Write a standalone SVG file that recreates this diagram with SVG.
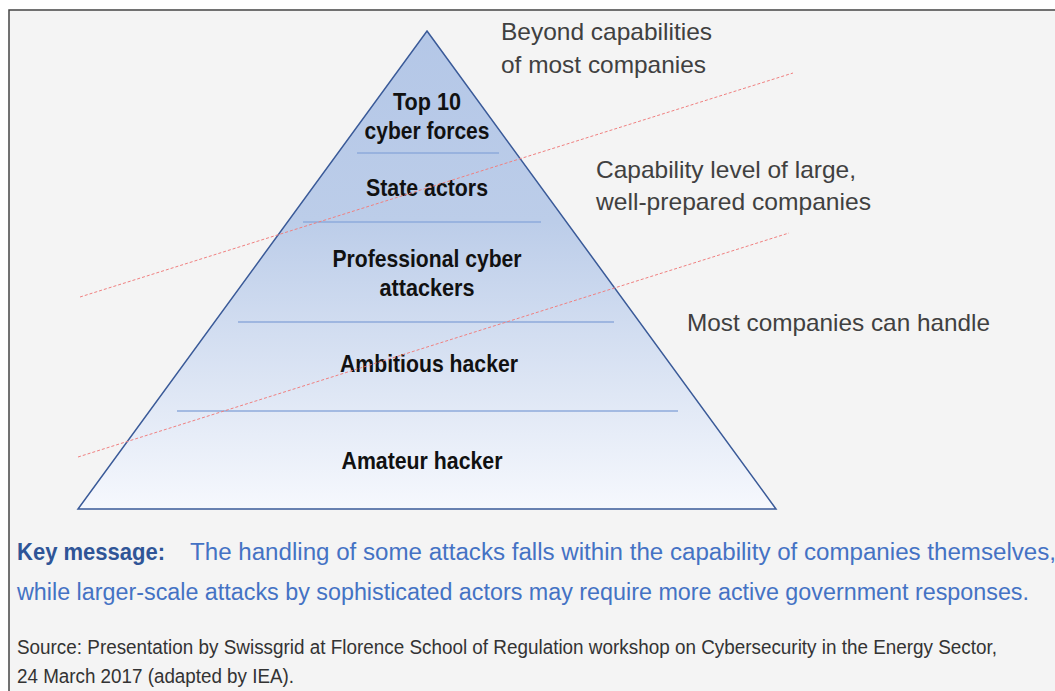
<svg xmlns="http://www.w3.org/2000/svg" width="1055" height="691" viewBox="0 0 1055 691">
<defs>
<linearGradient id="pg" x1="0" y1="0" x2="0" y2="1">
<stop offset="0" stop-color="#b4c7e7"/>
<stop offset="0.4" stop-color="#bccde9"/>
<stop offset="1" stop-color="#f6f8fd"/>
</linearGradient>
<style>
.lbl{font-family:"Liberation Sans",Arial,sans-serif;font-weight:bold;font-size:24px;fill:#111;text-anchor:middle}
.side{font-family:"Liberation Sans",Arial,sans-serif;font-size:24px;fill:#404040}
.div{stroke:#8eaadb;stroke-width:1.3;fill:none}
.red{stroke:#f08080;stroke-width:1;stroke-dasharray:3 2;fill:none}
.key{font-family:"Liberation Sans",Arial,sans-serif;font-size:23px;fill:#4472c4}
.src{font-family:"Liberation Sans",Arial,sans-serif;font-size:20px;fill:#333}
</style>
</defs>
<rect x="0" y="0" width="1055" height="691" fill="#ffffff"/>
<rect x="9" y="10" width="1060" height="700" fill="#f4f4f4" stroke="#444" stroke-width="1.5"/>
<g id="pyramid">
<polygon points="427,31 776,509 78,509" fill="url(#pg)" stroke="#3a5a98" stroke-width="1.5"/>
</g>
<g id="dividers">
<line class="div" x1="357" y1="153" x2="499" y2="153"/>
<line class="div" x1="303" y1="222" x2="541" y2="222"/>
<line class="div" x1="238" y1="322" x2="614" y2="322"/>
<line class="div" x1="177" y1="411" x2="678" y2="411"/>
</g>
<g id="node-top10"><text class="lbl" x="427" y="110" textLength="68" lengthAdjust="spacingAndGlyphs">Top 10</text><text class="lbl" x="427" y="139" textLength="125" lengthAdjust="spacingAndGlyphs">cyber forces</text></g>
<g id="node-state"><text class="lbl" x="427" y="196" textLength="122" lengthAdjust="spacingAndGlyphs">State actors</text></g>
<g id="node-prof"><text class="lbl" x="427" y="267" textLength="189" lengthAdjust="spacingAndGlyphs">Professional cyber</text><text class="lbl" x="427" y="296" textLength="95" lengthAdjust="spacingAndGlyphs">attackers</text></g>
<g id="node-ambitious"><text class="lbl" x="429" y="372" textLength="178" lengthAdjust="spacingAndGlyphs">Ambitious hacker</text></g>
<g id="node-amateur"><text class="lbl" x="422" y="469" textLength="161" lengthAdjust="spacingAndGlyphs">Amateur hacker</text></g>
<g id="connectors">
<line class="red" x1="80" y1="297" x2="793" y2="73"/>
<line class="red" x1="78" y1="457" x2="789" y2="233"/>
</g>
<g id="side-labels">
<text class="side" x="501" y="40" textLength="211" lengthAdjust="spacingAndGlyphs">Beyond capabilities</text>
<text class="side" x="501" y="73" textLength="205" lengthAdjust="spacingAndGlyphs">of most companies</text>
<text class="side" x="596" y="178" textLength="260" lengthAdjust="spacingAndGlyphs">Capability level of large,</text>
<text class="side" x="596" y="210" textLength="275" lengthAdjust="spacingAndGlyphs">well-prepared companies</text>
<text class="side" x="687" y="331" textLength="303" lengthAdjust="spacingAndGlyphs">Most companies can handle</text>
</g>
<g id="key-message">
<text class="key" x="17" y="560" style="font-weight:bold;fill:#2f5597" textLength="148" lengthAdjust="spacingAndGlyphs">Key message:</text>
<text class="key" x="190" y="560" textLength="866" lengthAdjust="spacingAndGlyphs">The handling of some attacks falls within the capability of companies themselves,</text>
<text class="key" x="17" y="600" textLength="1012" lengthAdjust="spacingAndGlyphs">while larger-scale attacks by sophisticated actors may require more active government responses.</text>
</g>
<g id="source">
<text class="src" x="17" y="654" textLength="980" lengthAdjust="spacingAndGlyphs">Source: Presentation by Swissgrid at Florence School of Regulation workshop on Cybersecurity in the Energy Sector,</text>
<text class="src" x="17" y="683" textLength="277" lengthAdjust="spacingAndGlyphs">24 March 2017 (adapted by IEA).</text>
</g>
</svg>
